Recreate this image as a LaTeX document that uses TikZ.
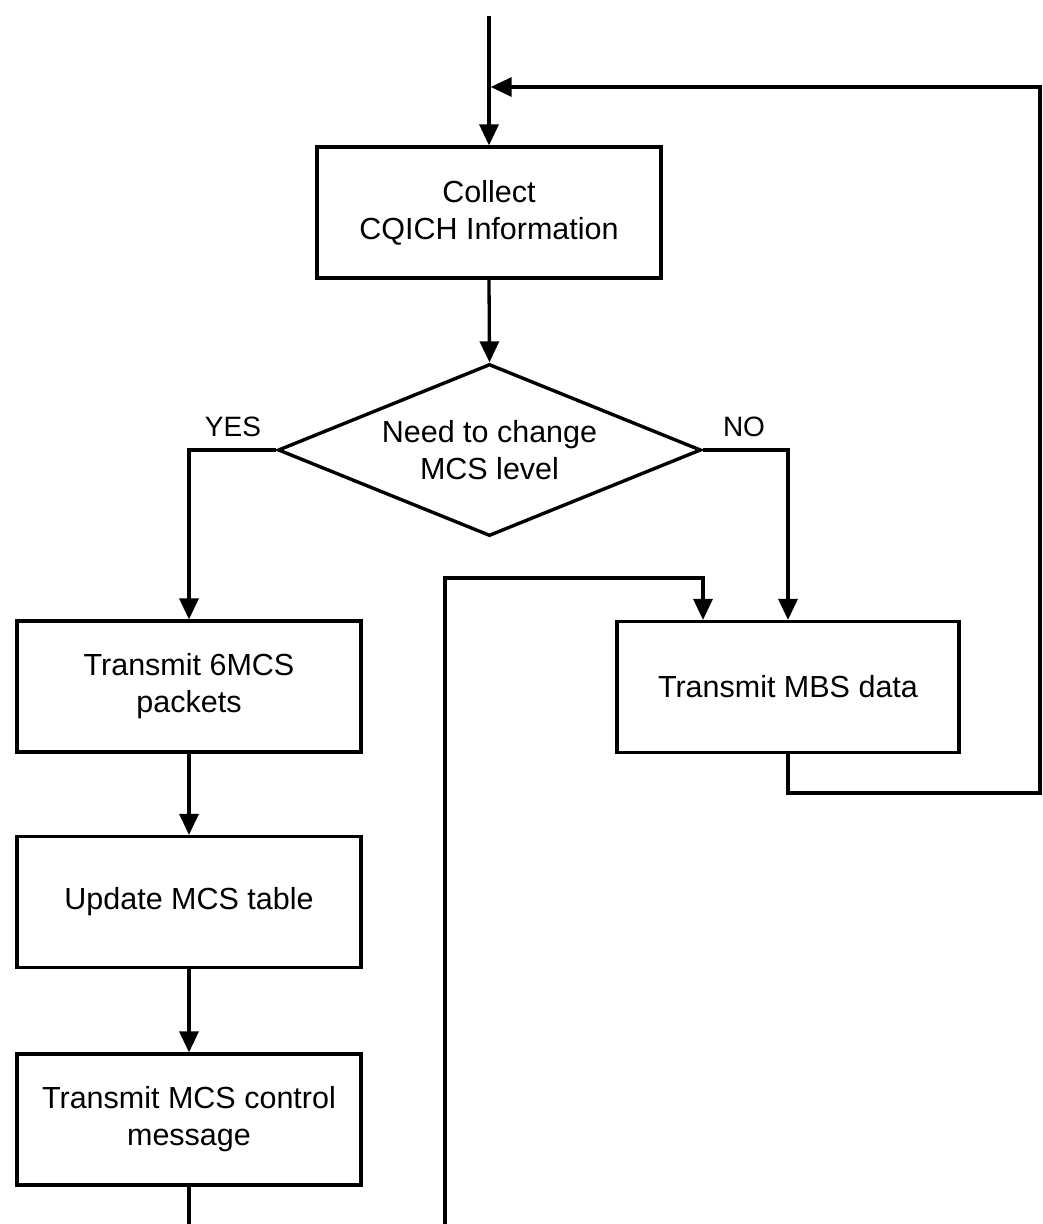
\documentclass[tikz,border=0pt]{standalone}
\usepackage{fontspec}
\setmainfont{Liberation Sans}
\usetikzlibrary{shapes.geometric,arrows.meta}

\tikzset{
  flow/.style={line width=3.3pt, line join=miter},
  arr/.style={flow, -{Triangle[length=21pt,width=19pt]}},
  procbox/.style={draw, line width=3.2pt, rectangle, minimum width=344pt,
    minimum height=131pt, inner sep=0pt, align=center,
    font=\fontsize{30.5}{37}\selectfont},
  decision/.style={draw, line width=3.4pt, diamond, aspect=2.46,
    minimum width=423pt, minimum height=172pt, inner sep=0pt, align=center,
    font=\fontsize{30.5}{37}\selectfont},
  branchlabel/.style={font=\fontsize{28}{32}\selectfont, inner sep=0pt}
}

\begin{document}
\begin{tikzpicture}[x=1pt, y=-1pt]
  \useasboundingbox (0,0) rectangle (1042,1224);

  % process steps
  \node[procbox] (collect) at (489,212.5) {Collect\\CQICH Information};
  \node[decision] (dec) at (489.5,450) {Need to change\\MCS level};
  \node[procbox] (mcs6) at (189,686.5) {Transmit 6MCS\\packets};
  \node[procbox] (upd) at (189,902) {Update MCS table};
  \node[procbox] (ctl) at (189,1119.5) {Transmit MCS control\\message};
  \node[procbox, minimum width=342pt] (mbs) at (788,687) {Transmit MBS data};

  % branch labels
  \node[branchlabel] (yes) at (233,427) {YES};
  \node[branchlabel] (no) at (744,427) {NO};

  % free ends and bends
  \coordinate (entry) at (489,16);
  \coordinate (exitA) at (189,1224);
  \coordinate (entryB) at (445,1224);
  \coordinate (bendB) at (703,578);
  \coordinate (loopLow) at (1040,793);
  \coordinate (loopHigh) at (1040,87);

  % main flow
  \draw[arr] (entry) -- (collect.north);
  \draw[arr] (collect.south) -- (dec.north);
  \draw[arr] (dec.west) -| (mcs6.north);
  \draw[arr] (dec.east) -| (mbs.north);
  \draw[arr] (mcs6.south) -- (upd.north);
  \draw[arr] (upd.south) -- (ctl.north);
  \draw[flow] (ctl.south) -- (exitA);

  % incoming path to data transmission
  \draw[arr] (entryB) |- (bendB) -- (bendB |- mbs.north);

  % loop back to collection
  \draw[arr] (mbs.south) |- (loopLow) -- (loopHigh) -- ([xshift=1.7pt]loopHigh -| entry);
\end{tikzpicture}
\end{document}
